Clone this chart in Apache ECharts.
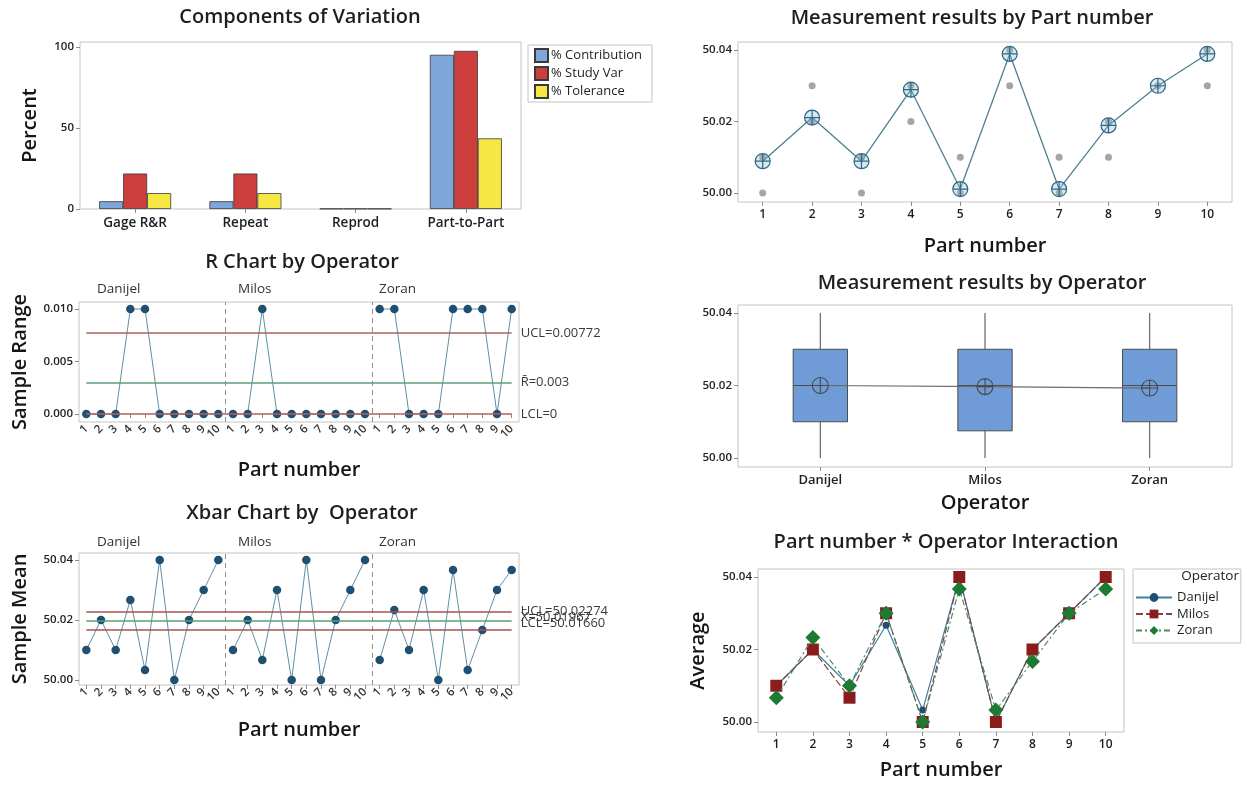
<!DOCTYPE html>
<html><head><meta charset="utf-8">
<script src="https://cdn.jsdelivr.net/npm/echarts@6/dist/echarts.min.js"></script>
<style>html,body{margin:0;padding:0;background:#fff}#c{width:1247px;height:785px}</style>
</head><body><div id="c"></div>
<script>
// ---------------- data ----------------
const compCategories = ['Gage R&R', 'Repeat', 'Reprod', 'Part-to-Part'];
const compNames = ['% Contribution', '% Study Var', '% Tolerance'];
const pctContribution = [4.8, 4.8, 0.2, 95.2];
const pctStudyVar = [21.9, 21.9, 0.2, 97.6];
const pctTolerance = [9.8, 9.8, 0.2, 43.6];
const percentTicks = [0, 50, 100];

const parts = ['1', '2', '3', '4', '5', '6', '7', '8', '9', '10'];
const operators = ['Danijel', 'Milos', 'Zoran'];

const rangeDanijel = [0, 0, 0, 0.01, 0.01, 0, 0, 0, 0, 0];
const rangeMilos = [0, 0, 0.01, 0, 0, 0, 0, 0, 0, 0];
const rangeZoran = [0.01, 0.01, 0, 0, 0, 0.01, 0.01, 0.01, 0, 0.01];
const rUCL = 0.00772, rBar = 0.003, rLCL = 0;
const rangeTicks = [0, 0.005, 0.010];

const meanDanijel = [50.01, 50.02, 50.01, 50.0267, 50.0033, 50.04, 50.00, 50.02, 50.03, 50.04];
const meanMilos = [50.01, 50.02, 50.0067, 50.03, 50.00, 50.04, 50.00, 50.02, 50.03, 50.04];
const meanZoran = [50.0067, 50.0233, 50.01, 50.03, 50.00, 50.0367, 50.0033, 50.0167, 50.03, 50.0367];
const xUCL = 50.02274, xBar = 50.01967, xLCL = 50.01660;
const measTicks = [50.00, 50.02, 50.04];

const partMeans = [50.0089, 50.0211, 50.0089, 50.0289, 50.0011, 50.0389, 50.0011, 50.0189, 50.03, 50.0389];
const partMeasurements = [
  [50.00, 50.01], [50.02, 50.03], [50.00, 50.01], [50.02, 50.03], [50.00, 50.01],
  [50.03, 50.04], [50.00, 50.01], [50.01, 50.02], [50.03], [50.03, 50.04]
];

// [min, Q1, median, Q3, max]
const boxDanijel = [50.00, 50.01, 50.02, 50.03, 50.04];
const boxMilos = [50.00, 50.0075, 50.02, 50.03, 50.04];
const boxZoran = [50.00, 50.01, 50.02, 50.03, 50.04];
const operatorMeans = [50.0200, 50.0197, 50.0193];

// ---------------- helpers ----------------
const FONT = "'Open Sans','Noto Sans',sans-serif";
const TXT = '#1e1e1e';
const BORDER = '#c4c4c4';
const CROSS = 'path://M10,0 A10,10 0 1,1 -10,0 A10,10 0 1,1 10,0 Z M0,-10 L0,10 M-10,0 L10,0';
const NAME_STYLE = { fontSize: 20, color: '#161616', fontWeight: 600, fontFamily: FONT };

const fmtTicks = (ticks, d) => v => ticks.some(t => Math.abs(t - v) < 1e-7) ? v.toFixed(d) : '';

function yAx(gridIndex, min, max, ticks, d, name, nameGap) {
  return {
    type: 'value', gridIndex, min, max, splitNumber: 2,
    axisLine: { show: false }, splitLine: { show: false },
    axisTick: { show: true, length: 4, lineStyle: { color: '#8a8a8a' }, customValues: ticks },
    axisLabel: { customValues: ticks, formatter: fmtTicks(ticks, d), fontSize: 11.5, fontWeight: 600, color: TXT, margin: 6 },
    name: name || '', nameLocation: 'middle', nameGap: nameGap || 0, nameRotate: 90,
    nameTextStyle: NAME_STYLE
  };
}
function xCat(gridIndex, data, extra) {
  return Object.assign({
    type: 'category', gridIndex, data, boundaryGap: true,
    axisLine: { show: false }, splitLine: { show: false },
    axisTick: { show: true, alignWithLabel: true, length: 4, lineStyle: { color: '#8a8a8a' } },
    axisLabel: { fontSize: 12, color: TXT, margin: 6 },
    nameLocation: 'middle', nameTextStyle: NAME_STYLE
  }, extra || {});
}
const grid = (left, top, width, height) => ({ left, top, width, height, show: true, borderColor: BORDER, borderWidth: 1, backgroundColor: '#fff' });

const opParts = operators.flatMap(o => parts.map(p => o + '|' + p));
const partLabel = v => v.split('|')[1];
const rotLabels = { fontSize: 11.5, fontWeight: 600, color: '#333', rotate: 45, margin: 5, interval: 0, formatter: partLabel };

function ctrlLine(v, color, text, dy) {
  const ls = { color, width: 1.5, type: 'solid' };
  const lb = { show: true, position: 'end', distance: 9, formatter: text, fontSize: 13, color: '#3a3a3a', fontFamily: FONT, offset: [0, dy || 0] };
  return [{ coord: [0.5, v], lineStyle: ls, label: lb }, { coord: [29.5, v], lineStyle: ls, label: lb }];
}
const sepLine = x => ({ xAxis: x, lineStyle: { type: [5, 4], color: '#8f8f8f', width: 1 }, label: { show: false } });

function opSeries(arr, k, xi, yi) {
  return {
    type: 'line', name: 'op' + k + '-' + xi, xAxisIndex: xi, yAxisIndex: yi,
    data: arr.map((v, i) => [k * 10 + i, v]),
    symbol: 'circle', symbolSize: 8.5,
    lineStyle: { color: '#5f8fa6', width: 1 },
    itemStyle: { color: '#1f4f71' }, z: 3
  };
}

// ---------------- chart ----------------
const chart = echarts.init(document.getElementById('c'));
const titleStyle = { fontSize: 20, fontWeight: 600, color: '#1e1e1e', fontFamily: FONT };
const title = (text, x, y) => ({ text, left: x, top: y, textAlign: 'center', padding: 0, textStyle: titleStyle });

const opLabels = [];
[282, 535].forEach(y => operators.forEach((o, k) => opLabels.push({
  type: 'text', left: 97 + k * 141, top: y, style: { text: o, fontSize: 13.5, fill: '#333', fontFamily: FONT }
})));

const option = {
  animation: false,
  backgroundColor: '#fff',
  textStyle: { fontFamily: FONT },
  title: [
    title('Components of Variation', 300, 7),
    title('R Chart by Operator', 302, 252),
    title('Xbar Chart by  Operator', 302, 503),
    title('Measurement results by Part number', 972, 8),
    title('Measurement results by Operator', 982, 273),
    title('Part number * Operator Interaction', 946, 532)
  ],
  legend: [
    {
      data: compNames, left: 528, top: 45, orient: 'vertical', icon: 'rect',
      itemWidth: 13, itemHeight: 13, itemGap: 3, padding: [3, 10, 3, 6],
      borderColor: BORDER, borderWidth: 1, selectedMode: false,
      textStyle: { fontSize: 13, color: TXT, padding: [0, 0, 0, -2] }
    },
    {
      data: operators, left: 1133, top: 569, orient: 'vertical',
      itemWidth: 36, itemHeight: 11, itemGap: 3.5, padding: [22, 22, 6, 2],
      borderColor: BORDER, borderWidth: 1, selectedMode: false,
      textStyle: { fontSize: 13, fontWeight: 500, color: TXT }
    }
  ],
  graphic: opLabels.concat([
    { type: 'text', right: 1247 - 1239, top: 569, style: { text: 'Operator', fontSize: 13.5, fill: '#222', fontFamily: FONT, align: 'right' } }
  ]),
  grid: [
    grid(80, 42, 441, 167),
    grid(79, 302, 440, 120),
    grid(79, 553, 440, 132),
    grid(738, 42, 494, 160),
    grid(738, 305, 494, 162),
    grid(758, 569, 366, 163)
  ],
  xAxis: [
    xCat(0, compCategories, { axisLabel: { fontSize: 13.5, fontWeight: 600, color: TXT, margin: 7 } }),
    xCat(1, opParts, { axisLabel: rotLabels, name: 'Part number', nameGap: 38 }),
    { type: 'value', gridIndex: 1, min: 0, max: 30, show: false },
    xCat(2, opParts, { axisLabel: rotLabels, name: 'Part number', nameGap: 35 }),
    { type: 'value', gridIndex: 2, min: 0, max: 30, show: false },
    xCat(3, parts, { axisLabel: { fontSize: 12, fontWeight: 600, color: TXT, margin: 7 }, name: 'Part number', nameGap: 34 }),
    xCat(4, operators, { axisLabel: { fontSize: 13, fontWeight: 600, color: TXT, margin: 7 }, name: 'Operator', nameGap: 26 }),
    xCat(5, parts, { axisLabel: { fontSize: 12, fontWeight: 600, color: TXT, margin: 7 }, name: 'Part number', nameGap: 28 })
  ],
  yAxis: [
    yAx(0, 0, 103.1, percentTicks, 0, 'Percent', 40),
    yAx(1, -0.00076, 0.010667, rangeTicks, 3, 'Sample Range', 49),
    yAx(2, 49.99833, 50.04233, measTicks, 2, 'Sample Mean', 49),
    yAx(3, 49.99748, 50.04224, measTicks, 2),
    yAx(4, 49.99752, 50.04221, measTicks, 2),
    yAx(5, 49.99724, 50.04221, measTicks, 2, 'Average', 50)
  ],
  series: [
    // Components of variation
    { type: 'bar', name: compNames[0], xAxisIndex: 0, yAxisIndex: 0, data: pctContribution, barWidth: 24, barGap: '0%',
      itemStyle: { color: '#7ea6d9', borderColor: '#3a3a3a', borderWidth: 0.8 } },
    { type: 'bar', name: compNames[1], xAxisIndex: 0, yAxisIndex: 0, data: pctStudyVar, barWidth: 24, barGap: '0%',
      itemStyle: { color: '#cc3f3c', borderColor: '#3a3a3a', borderWidth: 0.8 } },
    { type: 'bar', name: compNames[2], xAxisIndex: 0, yAxisIndex: 0, data: pctTolerance, barWidth: 24, barGap: '0%',
      itemStyle: { color: '#f7e743', borderColor: '#3a3a3a', borderWidth: 0.8 } },

    // R chart
    opSeries(rangeDanijel, 0, 1, 1), opSeries(rangeMilos, 1, 1, 1), opSeries(rangeZoran, 2, 1, 1),
    { type: 'line', name: 'r-helper', xAxisIndex: 2, yAxisIndex: 1, data: [], z: 1,
      markLine: { silent: true, symbol: 'none', animation: false,
        data: [sepLine(10), sepLine(20),
          ctrlLine(rUCL, '#b0605c', 'UCL=' + rUCL),
          ctrlLine(rBar, '#5e9c7a', 'R\u0304=' + rBar),
          ctrlLine(rLCL, '#b0605c', 'LCL=' + rLCL)] } },

    // Xbar chart
    opSeries(meanDanijel, 0, 3, 2), opSeries(meanMilos, 1, 3, 2), opSeries(meanZoran, 2, 3, 2),
    { type: 'line', name: 'x-helper', xAxisIndex: 4, yAxisIndex: 2, data: [], z: 1,
      markLine: { silent: true, symbol: 'none', animation: false,
        data: [sepLine(10), sepLine(20),
          ctrlLine(xUCL, '#a8524e', 'UCL=' + xUCL.toFixed(5)),
          ctrlLine(xBar, '#5e9c7a', 'X\u0304=' + xBar.toFixed(5), -4),
          ctrlLine(xLCL, '#a8524e', 'LCL=' + xLCL.toFixed(5), -7)] } },

    // Measurement by part number
    { type: 'scatter', name: 'meas', xAxisIndex: 5, yAxisIndex: 3,
      data: partMeasurements.flatMap((vals, i) => vals.map(v => [i, v])),
      symbolSize: 7, itemStyle: { color: '#8f8f8f' }, z: 2 },
    { type: 'line', name: 'partMean', xAxisIndex: 5, yAxisIndex: 3, data: partMeans,
      symbol: CROSS, symbolSize: 15, lineStyle: { color: '#4f7f93', width: 1.3 },
      itemStyle: { color: 'rgba(140,190,215,0.35)', borderColor: '#2f6882', borderWidth: 1.2 }, z: 3 },

    // Measurement by operator (box plots)
    { type: 'custom', name: 'box', xAxisIndex: 6, yAxisIndex: 4,
      data: [boxDanijel, boxMilos, boxZoran].map((b, i) => [i].concat(b)),
      encode: { x: 0, y: [1, 2, 3, 4, 5] },
      renderItem: (params, api) => {
        const xi = api.value(0);
        const p = [1, 2, 3, 4, 5].map(j => api.coord([xi, api.value(j)]));
        const w = api.size([1, 0])[0] * 0.33;
        const x = p[0][0];
        return { type: 'group', children: [
          { type: 'line', shape: { x1: x, y1: p[0][1], x2: x, y2: p[1][1] }, style: { stroke: '#666', lineWidth: 1.2 } },
          { type: 'line', shape: { x1: x, y1: p[3][1], x2: x, y2: p[4][1] }, style: { stroke: '#666', lineWidth: 1.2 } },
          { type: 'rect', shape: { x: x - w / 2, y: p[3][1], width: w, height: p[1][1] - p[3][1] }, style: { fill: '#6f9bd7', stroke: '#4d4d4d', lineWidth: 1 } },
          { type: 'line', shape: { x1: x - w / 2, y1: p[2][1], x2: x + w / 2, y2: p[2][1] }, style: { stroke: '#4d4d4d', lineWidth: 1.2 } }
        ] };
      }, z: 2 },
    { type: 'line', name: 'opMean', xAxisIndex: 6, yAxisIndex: 4, data: operatorMeans,
      symbol: CROSS, symbolSize: 16, lineStyle: { color: '#6d6d6d', width: 1.2 },
      itemStyle: { color: 'rgba(0,0,0,0)', borderColor: '#4a4a4a', borderWidth: 1.1 }, z: 4 },

    // Interaction
    { type: 'line', name: 'Danijel', xAxisIndex: 7, yAxisIndex: 5, data: meanDanijel,
      symbol: 'circle', symbolSize: 7, lineStyle: { color: '#40809f', width: 1.2 }, itemStyle: { color: '#1f4f79' }, z: 3 },
    { type: 'line', name: 'Milos', xAxisIndex: 7, yAxisIndex: 5, data: meanMilos,
      symbol: 'rect', symbolSize: 12, lineStyle: { color: '#7d4545', width: 1.2, type: [7, 3] }, itemStyle: { color: '#8b1c1c' }, z: 4 },
    { type: 'line', name: 'Zoran', xAxisIndex: 7, yAxisIndex: 5, data: meanZoran,
      symbol: 'diamond', symbolSize: 15, lineStyle: { color: '#4d8a62', width: 1.2, type: [6, 3, 2, 3] }, itemStyle: { color: '#1c7a32' }, z: 5 }
  ]
};
chart.setOption(option);
</script></body></html>
